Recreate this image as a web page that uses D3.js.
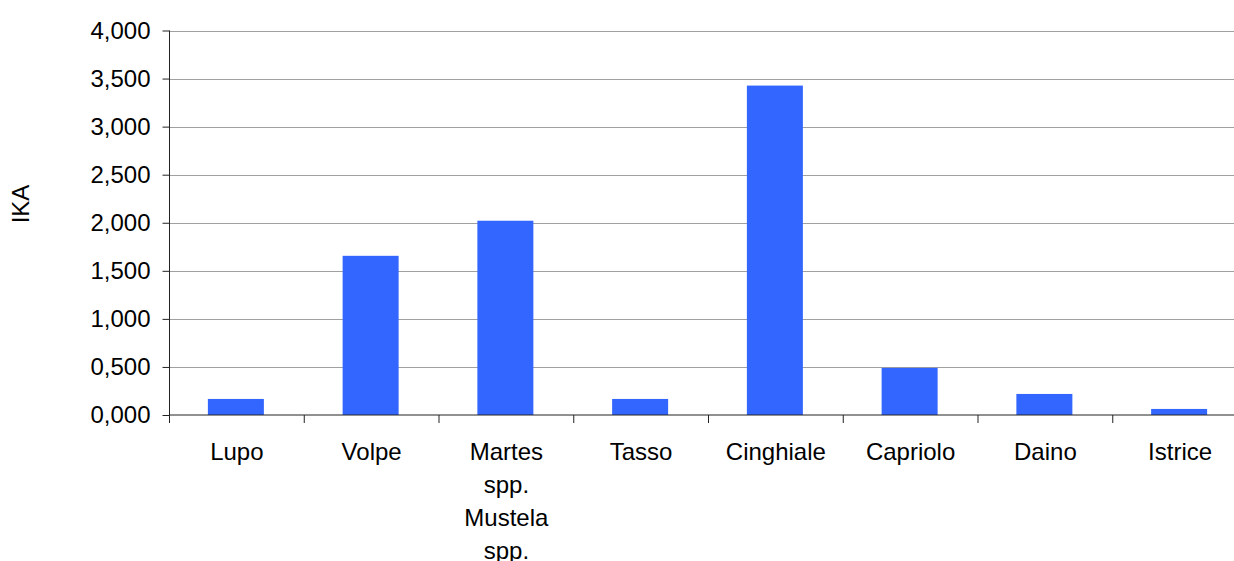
<!DOCTYPE html>
<html>
<head>
<meta charset="utf-8">
<script src="https://cdn.jsdelivr.net/npm/d3@7"></script>
<style>
  html, body { margin: 0; padding: 0; background: #fff; }
  svg { display: block; font-family: "Liberation Sans", Arial, sans-serif; }
</style>
</head>
<body>
<svg id="chart" width="1234" height="561"></svg>
<script>
// IKA per species
const categories = ["Lupo", "Volpe", "Martes spp. Mustela spp.", "Tasso", "Cinghiale", "Capriolo", "Daino", "Istrice"];
const ikaValues  = [0.167, 1.656, 2.021, 0.167, 3.427, 0.490, 0.219, 0.063];
const yTicks     = [0, 0.5, 1, 1.5, 2, 2.5, 3, 3.5, 4];
const yTitle     = "IKA";

const svg = d3.select("#chart");
const plotLeft = 169.5, step = 134.75, plotBottom = 415, plotTop = 30.5;
const plotRight = plotLeft + step * categories.length;

const x = d3.scaleBand().domain(categories).range([plotLeft, plotRight]).padding(0);
const y = d3.scaleLinear().domain([0, 4]).range([plotBottom, plotTop]);

const it = d3.formatLocale({ decimal: ",", thousands: ".", grouping: [3], currency: ["", ""] });
const fmt = it.format(".3f");

// horizontal gridlines
svg.append("g")
  .selectAll("line")
  .data(yTicks.filter(d => d > 0))
  .join("line")
  .attr("x1", plotLeft).attr("x2", plotRight)
  .attr("y1", d => Math.round(y(d)) + 0.5).attr("y2", d => Math.round(y(d)) + 0.5)
  .attr("stroke", "#a0a0a0").attr("stroke-width", 1);

// bars
const barW = 56;
svg.append("g")
  .selectAll("rect")
  .data(categories.map((c, i) => ({ c, v: ikaValues[i] })))
  .join("rect")
  .attr("x", d => x(d.c) + x.bandwidth() / 2 - barW / 2 - 1)
  .attr("width", barW)
  .attr("y", d => y(d.v))
  .attr("height", d => y(0) - y(d.v))
  .attr("fill", "#3366ff");

// y axis
const yAxis = svg.append("g")
  .attr("transform", `translate(${plotLeft},0)`)
  .call(d3.axisLeft(y).tickValues(yTicks).tickFormat(fmt).tickSize(7).tickPadding(12));
yAxis.select(".domain").attr("stroke", "#222").attr("d", `M0,${plotTop}V${plotBottom + 8}`);
yAxis.selectAll(".tick line").attr("stroke", "#222");
yAxis.selectAll(".tick text")
  .attr("fill", "#000")
  .style("font-size", "24px")
  .style("font-family", "\"Liberation Sans\", Arial, sans-serif");

// x axis line and category boundary ticks
svg.append("line")
  .attr("x1", plotLeft).attr("x2", plotRight)
  .attr("y1", plotBottom).attr("y2", plotBottom)
  .attr("stroke", "#222").attr("stroke-width", 1);
svg.append("g")
  .selectAll("line")
  .data(d3.range(categories.length + 1))
  .join("line")
  .attr("x1", i => plotLeft + i * step).attr("x2", i => plotLeft + i * step)
  .attr("y1", plotBottom).attr("y2", plotBottom + 8)
  .attr("stroke", "#222");

// category labels, wrapped to fit
const maxLabelW = 110;
const labels = svg.append("g")
  .selectAll("text")
  .data(categories)
  .join("text")
  .attr("x", d => x(d) + x.bandwidth() / 2)
  .attr("y", 460)
  .attr("text-anchor", "middle")
  .attr("fill", "#000")
  .style("font-size", "24px");

labels.each(function (d) {
  const t = d3.select(this);
  const words = d.split(" ");
  let line = [];
  let tspan = t.append("tspan").attr("x", t.attr("x")).attr("dy", 0);
  for (const w of words) {
    line.push(w);
    tspan.text(line.join(" "));
    if (tspan.node().getComputedTextLength() > maxLabelW && line.length > 1) {
      line.pop();
      tspan.text(line.join(" "));
      line = [w];
      tspan = t.append("tspan").attr("x", t.attr("x")).attr("dy", 33).text(w);
    }
  }
});

// y axis title
svg.append("text")
  .attr("transform", `translate(29,204) rotate(-90)`)
  .attr("text-anchor", "middle")
  .attr("fill", "#000")
  .style("font-size", "24px")
  .text(yTitle);
</script>
</body>
</html>
